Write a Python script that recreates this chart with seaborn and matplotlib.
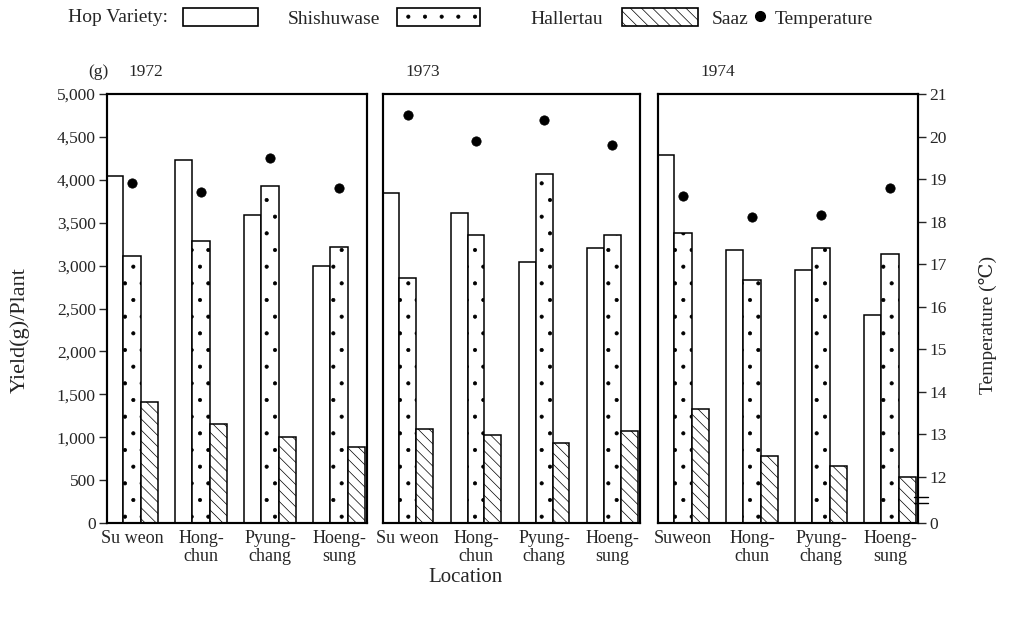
import numpy as np
import pandas as pd
import matplotlib
matplotlib.use("Agg")
import matplotlib.pyplot as plt
import matplotlib.patches as mpatches
import matplotlib.lines as mlines
import matplotlib.transforms as mtransforms
import seaborn as sns

# ---------------- data ----------------
years = ["1972", "1973", "1974"]
locations = ["Suweon", "Hongchun", "Pyungchang", "Hoengsung"]
varieties = ["Shishuwase", "Hallertau", "Saaz"]
tick_labels = [
    ["Su weon", "Hong-\nchun", "Pyung-\nchang", "Hoeng-\nsung"],
    ["Su weon", "Hong-\nchun", "Pyung-\nchang", "Hoeng-\nsung"],
    ["Suweon", "Hong-\nchun", "Pyung-\nchang", "Hoeng-\nsung"],
]

shishuwase_1972 = [4050, 4230, 3590, 2990]
hallertau_1972 = [3110, 3290, 3930, 3220]
saaz_1972 = [1410, 1150, 1000, 890]
temp_1972 = [18.9, 18.7, 19.5, 18.8]

shishuwase_1973 = [3850, 3610, 3040, 3200]
hallertau_1973 = [2860, 3360, 4070, 3360]
saaz_1973 = [1100, 1020, 930, 1070]
temp_1973 = [20.5, 19.9, 20.4, 19.8]

shishuwase_1974 = [4290, 3180, 2950, 2430]
hallertau_1974 = [3380, 2830, 3200, 3140]
saaz_1974 = [1330, 780, 660, 540]
temp_1974 = [18.6, 18.1, 18.15, 18.8]

yield_ticks = [0, 500, 1000, 1500, 2000, 2500, 3000, 3500, 4000, 4500, 5000]
yield_ticklabels = ["0", "500", "1,000", "1,500", "2,000", "2,500",
                    "3,000", "3,500", "4,000", "4,500", "5,000"]
temp_ticks = [12, 13, 14, 15, 16, 17, 18, 19, 20, 21]
temp_axis_bottom = 10.91  # broken axis: bottom shown as 0

yields = {
    "1972": [shishuwase_1972, hallertau_1972, saaz_1972],
    "1973": [shishuwase_1973, hallertau_1973, saaz_1973],
    "1974": [shishuwase_1974, hallertau_1974, saaz_1974],
}
temps = {"1972": temp_1972, "1973": temp_1973, "1974": temp_1974}

# ---------------- style ----------------
sns.set_style("white")
plt.rcParams["font.family"] = ["Liberation Serif", "DejaVu Serif", "DejaVu Sans"]
plt.rcParams["hatch.linewidth"] = 0.5
plt.rcParams["hatch.color"] = "black"

FS = 12.5
hatches = ["", ".", "\\\\\\"]

W, H = 1012, 621
fig = plt.figure(figsize=(W / 100, H / 100), dpi=100)

panel_px = [(107, 260), (383, 257), (658, 260)]
top_px, bot_px = 94, 523

xlim = (-25 / 69, -25 / 69 + 260 / 69)

for i, yr in enumerate(years):
    left, width = panel_px[i]
    ax = fig.add_axes([left / W, 1 - bot_px / H, width / W, (bot_px - top_px) / H])
    rows = []
    for v, vals in zip(varieties, yields[yr]):
        for loc, val in zip(locations, vals):
            rows.append({"Location": loc, "Variety": v, "Yield": val})
    df = pd.DataFrame(rows)
    sns.barplot(data=df, x="Location", y="Yield", hue="Variety",
                order=locations, hue_order=varieties,
                palette=["white"] * 3, edgecolor="black", linewidth=1.1,
                width=0.74, gap=0, errorbar=None, legend=False, ax=ax,
                saturation=1)
    for cont, h in zip(ax.containers, hatches):
        for bar in cont:
            bar.set_hatch(h)
    ax.set_ylim(0, 5000)
    ax.set_xlim(*xlim)
    ax.set_xlabel("")
    ax.set_ylabel("")
    ax.set_xticks(range(len(locations)))
    ax.set_xticklabels(tick_labels[i], fontsize=13, linespacing=1.1)
    ax.tick_params(axis="x", length=0, pad=5)
    for s in ax.spines.values():
        s.set_linewidth(1.5)
        s.set_color("black")
    if i == 0:
        ax.set_yticks(yield_ticks)
        ax.set_yticklabels(yield_ticklabels, fontsize=FS)
        ax.tick_params(axis="y", direction="out", length=6, width=1, pad=2,
                       left=True)
    else:
        ax.set_yticks([])

    axt = ax.twinx()
    sns.scatterplot(x=np.arange(len(locations)), y=temps[yr], ax=axt,
                    color="black", edgecolor="black", s=45, marker="o",
                    zorder=5, legend=False)
    axt.set_ylim(temp_axis_bottom, 21)
    axt.set_xlim(*xlim)
    axt.set_ylabel("")
    for s in axt.spines.values():
        s.set_linewidth(1.5)
        s.set_color("black")
    if i == 2:
        axt.set_yticks([temp_axis_bottom] + temp_ticks)
        axt.set_yticklabels(["0"] + [str(t) for t in temp_ticks], fontsize=FS)
        axt.tick_params(axis="y", direction="out", length=6, width=1, pad=2,
                        right=True)
        tr = mtransforms.blended_transform_factory(axt.transAxes, axt.transData)
        for yb in (11.53, 11.39):
            axt.plot([0.985, 1.04], [yb, yb], transform=tr, color="black",
                     lw=1.0, clip_on=False)
    else:
        axt.set_yticks([])

    # year title
    title_x = {0: 128, 1: 405, 2: 700}[i]
    fig.text(title_x / W, 1 - 72 / H, yr, fontsize=FS, ha="left", va="center")

fig.text(88 / W, 1 - 72 / H, "(g)", fontsize=FS, ha="left", va="center")
fig.text(20 / W, 1 - 330 / H, "Yield(g)/Plant", fontsize=16, rotation=90,
         ha="center", va="center")
fig.text(988 / W, 1 - 325 / H, "Temperature (℃)", fontsize=14, rotation=90,
         ha="center", va="center")
fig.text(466 / W, 1 - 578 / H, "Location", fontsize=15, ha="center",
         va="center")

# ---------------- legend ----------------
LFS = 14
fig.text(68 / W, 1 - 18 / H, "Hop Variety:", fontsize=LFS, ha="left",
         va="center")
em = LFS * 100 / 72
legend_specs = [
    (183, mpatches.Patch(facecolor="white", edgecolor="black", hatch=hatches[0],
                         linewidth=1.2), varieties[0], 75, 30, 1.05),
    (397, mpatches.Patch(facecolor="white", edgecolor="black", hatch=hatches[1],
                         linewidth=1.2), varieties[1], 83, 50, 1.05),
    (622, mpatches.Patch(facecolor="white", edgecolor="black", hatch=hatches[2],
                         linewidth=1.2), varieties[2], 76, 14, 1.05),
    (752, mlines.Line2D([], [], marker="o", color="black", linestyle="none",
                        markersize=7), "Temperature", 16, 7, 1.0),
]
for xpx, handle, label, hlen, pad, hh in legend_specs:
    fig.legend([handle], [label], loc="center left",
               bbox_to_anchor=(xpx / W, 1 - 18 / H), frameon=False,
               fontsize=LFS, handlelength=hlen / em, handletextpad=pad / em,
               handleheight=hh, borderpad=0, borderaxespad=0)

fig.savefig("out.png", dpi=100)
